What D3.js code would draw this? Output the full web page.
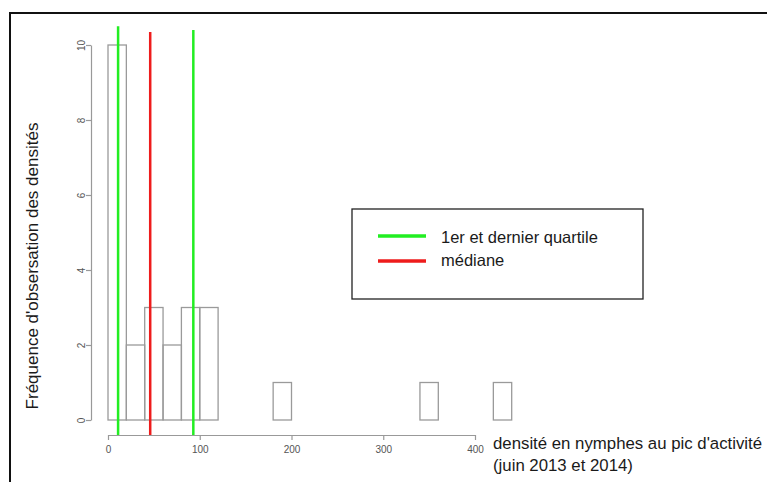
<!DOCTYPE html>
<html lang="fr">
<head>
    <meta charset="UTF-8">
    <title>Histogramme densités</title>
    <script src="https://d3js.org/d3.v7.min.js"></script>
    <style>
        body { margin: 0; background: #fff; }
        text { font-family: "Liberation Sans", Arial, sans-serif; }
    </style>
</head>
<body>
    <script>
    // histogramme : classes de 20, effectifs
    var binStarts = [0, 20, 40, 60, 80, 100, 120, 140, 160, 180, 200,
                     220, 240, 260, 280, 300, 320, 340, 360, 380, 400, 420];
    var counts    = [10, 2, 3, 2, 3, 3, 0, 0, 0, 1, 0,
                     0, 0, 0, 0, 0, 0, 1, 0, 0, 0, 1];
    var binWidth = 20;

    // quartiles (1er, médiane, dernier)
    var quartNames = ["q1", "mediane", "q3"];
    var quartValues = [11, 46, 93];
    var quartTops = [10.5, 10.35, 10.4];
    var quartColors = ["#22ee22", "#ee1c1c", "#22ee22"];

    var xTicks = [0, 100, 200, 300, 400];
    var yTicks = [0, 2, 4, 6, 8, 10];

    var legendLabels = ["1er et dernier quartile", "médiane"];
    var legendColors = ["#22ee22", "#ee1c1c"];

    var width = 767, height = 482;

    var svg = d3.select("body").append("svg")
        .attr("width", width).attr("height", height);

    // cadre
    svg.append("path")
        .attr("d", "M10," + height + "V13H" + (width + 5))
        .attr("fill", "none")
        .attr("stroke", "#111")
        .attr("stroke-width", 2);

    var x = d3.scaleLinear().domain([0, 400]).range([108, 475]);
    var y = d3.scaleLinear().domain([0, 10]).range([420, 45]);

    // barres
    svg.append("g").selectAll("rect")
        .data(binStarts)
        .enter()
        .append("rect")
        .attr("x", function(d) { return x(d); })
        .attr("width", function(d) { return x(d + binWidth) - x(d); })
        .attr("y", function(d, i) { return y(counts[i]); })
        .attr("height", function(d, i) { return y(0) - y(counts[i]); })
        .attr("fill", "none")
        .attr("stroke", "#9a9a9a")
        .attr("stroke-width", 1.3);

    // axe x
    var gx = svg.append("g")
        .attr("transform", "translate(0,435)")
        .call(d3.axisBottom(x).tickValues(xTicks).tickSize(5).tickSizeOuter(0).tickPadding(6));
    // axe y
    var gy = svg.append("g")
        .attr("transform", "translate(91,0)")
        .call(d3.axisLeft(y).tickValues(yTicks).tickSize(5).tickSizeOuter(0).tickPadding(0));

    [gx, gy].forEach(function(g) {
        g.select(".domain").attr("stroke", "#999").attr("stroke-width", 1.2);
        g.selectAll(".tick line").attr("stroke", "#999").attr("stroke-width", 1.2);
        g.selectAll(".tick text")
            .attr("fill", "#555")
            .style("font-size", "10px");
    });
    gy.selectAll(".tick text")
        .attr("x", null)
        .attr("text-anchor", "middle")
        .attr("transform", "translate(-10,0) rotate(-90)")
        .attr("dy", "0.35em");

    // lignes des quartiles
    svg.append("g").selectAll("line")
        .data(quartValues)
        .enter()
        .append("line")
        .attr("class", function(d, i) { return quartNames[i]; })
        .attr("x1", function(d) { return x(d); })
        .attr("x2", function(d) { return x(d); })
        .attr("y1", function(d, i) { return y(quartTops[i]); })
        .attr("y2", y(-0.4))
        .attr("stroke", function(d, i) { return quartColors[i]; })
        .attr("stroke-width", 2.5);

    // titre y
    svg.append("text")
        .attr("transform", "translate(38,266) rotate(-90)")
        .attr("text-anchor", "middle")
        .attr("fill", "#1a1a1a")
        .style("font-size", "17px")
        .text("Fréquence d'obsersation des densités");

    // titre x
    var xl = svg.append("text")
        .attr("fill", "#1a1a1a")
        .style("font-size", "16.8px");
    xl.append("tspan").attr("x", 493).attr("y", 449).text("densité en nymphes au pic d'activité");
    xl.append("tspan").attr("x", 493).attr("y", 471).text("(juin 2013 et 2014)");

    // légende
    var leg = svg.append("g");
    leg.append("rect")
        .attr("x", 352).attr("y", 209)
        .attr("width", 291).attr("height", 90)
        .attr("fill", "#fff")
        .attr("stroke", "#222")
        .attr("stroke-width", 1.3);
    var items = leg.selectAll(".item")
        .data(legendLabels)
        .enter()
        .append("g")
        .attr("class", "item")
        .attr("transform", function(d, i) { return "translate(0," + (236 + i * 25) + ")"; });
    items.append("line")
        .attr("x1", 378).attr("x2", 426)
        .attr("stroke", function(d, i) { return legendColors[i]; })
        .attr("stroke-width", 3.5);
    items.append("text")
        .attr("x", 441).attr("y", function(d, i) { return i === 0 ? 7 : 5; })
        .attr("fill", "#1a1a1a")
        .style("font-size", "16.5px")
        .text(function(d) { return d; });
    </script>
</body>
</html>
